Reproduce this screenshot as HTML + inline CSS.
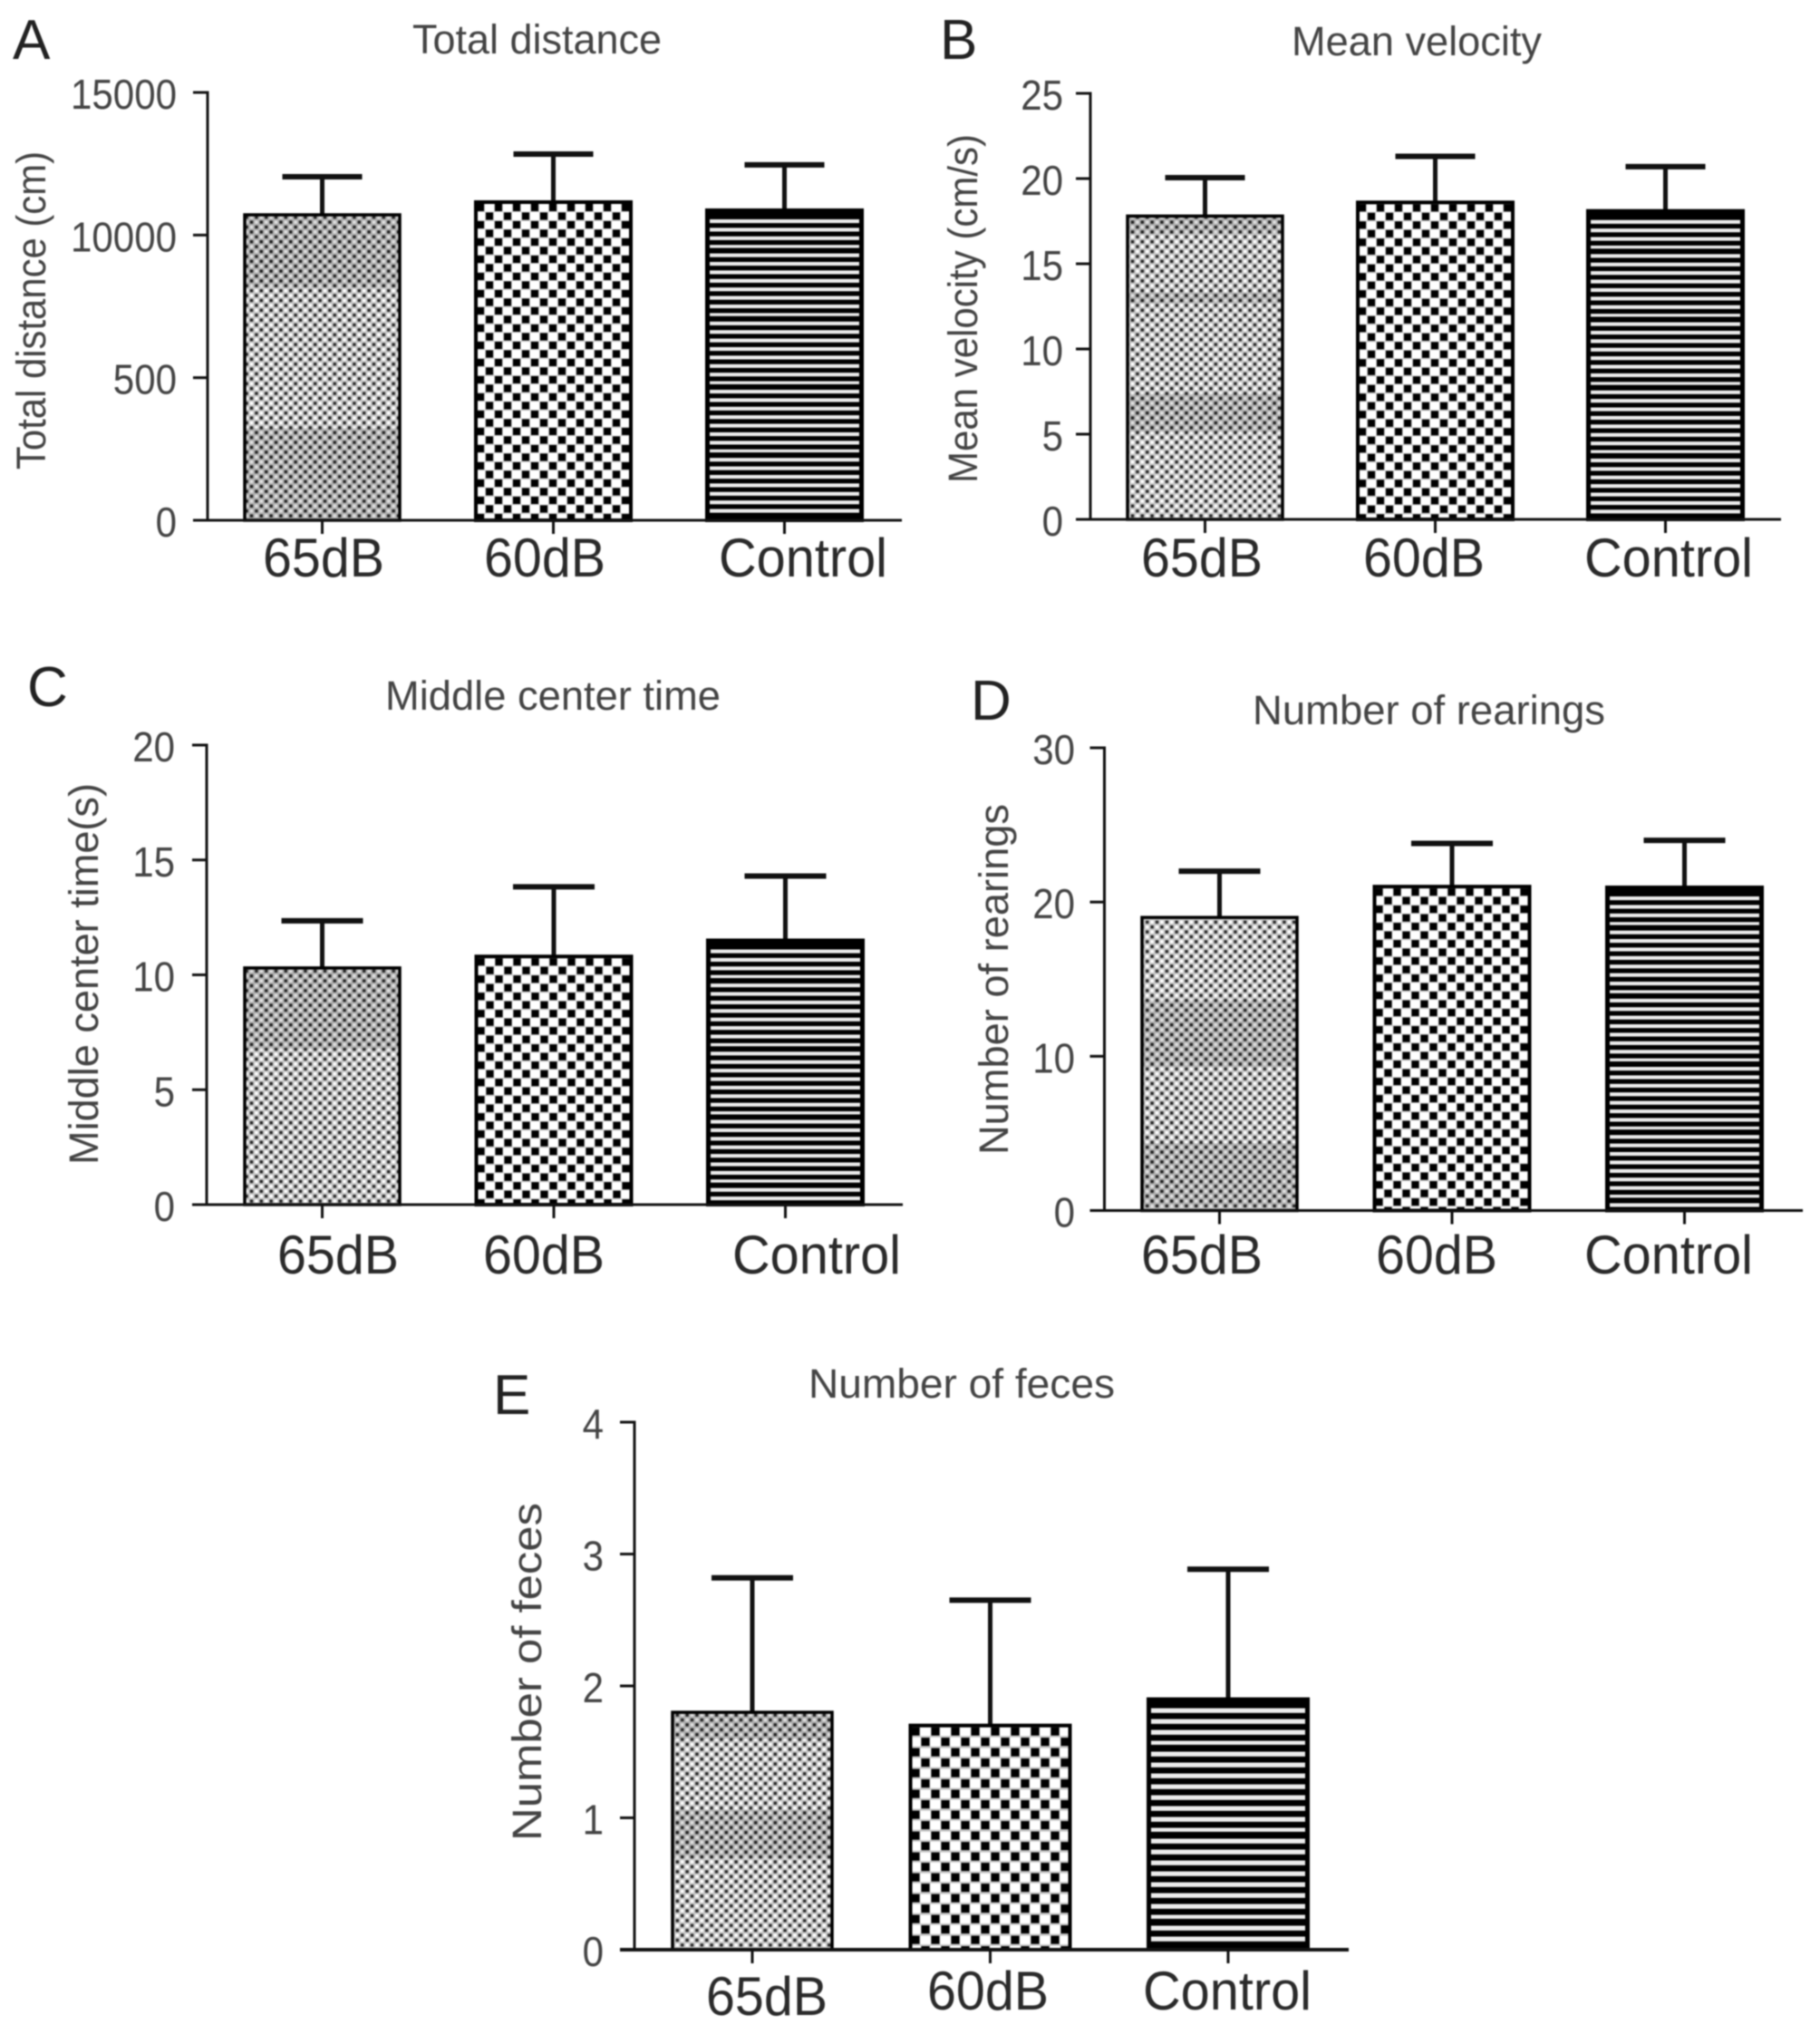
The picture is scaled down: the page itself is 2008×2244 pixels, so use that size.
<!DOCTYPE html>
<html>
<head>
<meta charset="utf-8">
<title>Open field test bar charts</title>
<style>
html,body{margin:0;padding:0;background:#fff;}
#figure{display:block;width:2008px;height:2244px;filter:blur(0.7px);font-family:"Liberation Sans",sans-serif;}
</style>
</head>
<body>
<svg id="figure" xmlns="http://www.w3.org/2000/svg" width="2008" height="2244" viewBox="0 0 2008 2244"><rect width="2008" height="2244" fill="#fff"/></svg>
<script>
const categories = ['65dB', '60dB', 'Control'];

const valuesA = [10710, 11155, 10870];
const errorTopsA = [12045, 12840, 12460];
const tickValuesA = [0, 5000, 10000, 15000];
const tickLabelsA = ['0', '500', '10000', '15000'];

const valuesB = [17.8, 18.6, 18.1];
const errorTopsB = [20.05, 21.3, 20.7];
const tickValuesB = [0, 5, 10, 15, 20, 25];
const tickLabelsB = ['0', '5', '10', '15', '20', '25'];

const valuesC = [10.3, 10.8, 11.5];
const errorTopsC = [12.35, 13.83, 14.3];
const tickValuesC = [0, 5, 10, 15, 20];
const tickLabelsC = ['0', '5', '10', '15', '20'];

const valuesD = [19, 21, 20.95];
const errorTopsD = [22, 23.8, 24];
const tickValuesD = [0, 10, 20, 30];
const tickLabelsD = ['0', '10', '20', '30'];

const valuesE = [1.8, 1.7, 1.9];
const errorTopsE = [2.82, 2.65, 2.885];
const tickValuesE = [0, 1, 2, 3, 4];
const tickLabelsE = ['0', '1', '2', '3', '4'];

const panelLayouts = [
  {id:'a', letter:'A', letterX:14, letterY:65, title:'Total distance', titleX:455, titleY:59, titleW:275, yTitle:'Total distance (cm)', yTitleX:50, yTitleY:518, yTitleL:351,
   axisX:229, top:102, bottom:574, right:995, domainMax:15000, first:355.5, step:255, barW:171, capHalf:44, tickRight:195,
   catLeft:[290,534,793], catY:[636,636,636], bands:[[237,317],[472,574]], stripe:9.4, chW:20, chH:19, chS:8, values:valuesA, errs:errorTopsA, ticks:tickValuesA, labels:tickLabelsA},
  {id:'b', letter:'B', letterX:1037, letterY:65, title:'Mean velocity', titleX:1425, titleY:61, titleW:276, yTitle:'Mean velocity (cm/s)', yTitleX:1078, yTitleY:533, yTitleL:385,
   axisX:1203, top:103, bottom:573, right:1965, domainMax:25, first:1329.5, step:254, barW:171, capHalf:44, tickRight:1173,
   catLeft:[1259,1504,1748], catY:[636,636,636], bands:[[238,258],[323,334],[434,477]], stripe:9.4, chW:20, chH:19, chS:8, values:valuesB, errs:errorTopsB, ticks:tickValuesB, labels:tickLabelsB},
  {id:'c', letter:'C', letterX:30, letterY:779, title:'Middle center time', titleX:425, titleY:783, titleW:370, yTitle:'Middle center time(s)', yTitleX:108, yTitleY:1285, yTitleL:421,
   axisX:228, top:822, bottom:1329, right:996, domainMax:20, first:355.5, step:255.5, barW:171, capHalf:45, tickRight:193,
   catLeft:[306,533,808], catY:[1405,1405,1405], bands:[[1068,1158]], stripe:9.4, chW:20, chH:19, chS:8, values:valuesC, errs:errorTopsC, ticks:tickValuesC, labels:tickLabelsC},
  {id:'d', letter:'D', letterX:1071, letterY:794, title:'Number of rearings', titleX:1382, titleY:799, titleW:389, yTitle:'Number of rearings', yTitleX:1112, yTitleY:1274, yTitleL:387,
   axisX:1218.5, top:825, bottom:1335.5, right:1989, domainMax:30, first:1345.5, step:256.5, barW:171, capHalf:45, tickRight:1186,
   catLeft:[1259,1518,1748], catY:[1405,1405,1405], bands:[[1103,1177],[1261,1332]], stripe:9.4, chW:20, chH:19, chS:8, values:valuesD, errs:errorTopsD, ticks:tickValuesD, labels:tickLabelsD},
  {id:'e', letter:'E', letterX:544, letterY:1560, title:'Number of feces', titleX:892, titleY:1542, titleW:338, yTitle:'Number of feces', yTitleX:597, yTitleY:2031, yTitleL:373,
   axisX:700, top:1569, bottom:2151, right:1488, domainMax:4, first:830, step:262.5, barW:176, capHalf:45, tickRight:666,
   catLeft:[779,1023,1261], catY:[2223,2217,2217], bands:[[1889,1919],[1997,2050]], stripe:12, chW:22, chH:23, chS:9, values:valuesE, errs:errorTopsE, ticks:tickValuesE, labels:tickLabelsE}
];

const SVGNS = 'http://www.w3.org/2000/svg';
const root = document.getElementById('figure');
const defs = document.createElementNS(SVGNS, 'defs');
root.appendChild(defs);

function make(tag, attrs, parent) {
  const node = document.createElementNS(SVGNS, tag);
  for (const k in attrs) node.setAttribute(k, attrs[k]);
  parent.appendChild(node);
  return node;
}
function line(x1, y1, x2, y2, w, parent) {
  return make('line', {x1, y1, x2, y2, stroke:'#111', 'stroke-width':w}, parent);
}
function label(str, attrs, parent) {
  const t = make('text', attrs, parent);
  t.textContent = str;
  return t;
}

const dotPattern = make('pattern', {id:'dots', patternUnits:'userSpaceOnUse', width:10.8, height:10.8}, defs);
make('rect', {width:10.8, height:10.8, fill:'#c6c6c6'}, dotPattern);
make('rect', {x:0.4, y:0.4, width:3.4, height:3.4, fill:'#2a2a2a'}, dotPattern);
make('rect', {x:5.8, y:5.8, width:3.4, height:3.4, fill:'#2a2a2a'}, dotPattern);
make('rect', {x:5.8, y:0.4, width:3.4, height:3.4, fill:'#fff'}, dotPattern);
make('rect', {x:0.4, y:5.8, width:3.4, height:3.4, fill:'#fff'}, dotPattern);

panelLayouts.forEach(function (p) {
  const yScale = function (v) { return p.bottom - (v / p.domainMax) * (p.bottom - p.top); };
  const xCenter = function (i) { return p.first + i * p.step; };

  const g = make('g', {}, root);
  
  

  const letter = label(p.letter, {x:p.letterX, y:p.letterY, 'font-size':62, fill:'#222'}, g);
  
  

  const title = label(p.title, {x:p.titleX, y:p.titleY, 'font-size':45, fill:'#444', textLength:p.titleW, lengthAdjust:'spacingAndGlyphs'}, g);
  
  

  const yTitle = label(p.yTitle, {x:p.yTitleX, y:p.yTitleY, 'font-size':45, fill:'#444', textLength:p.yTitleL, lengthAdjust:'spacingAndGlyphs', transform:'rotate(-90 ' + p.yTitleX + ' ' + p.yTitleY + ')'}, g);
  
  

  const chk = make('pattern', {id:'check-' + p.id, patternUnits:'userSpaceOnUse', width:p.chW, height:p.chH, patternTransform:'translate(' + (xCenter(1) - p.barW / 2) + ' ' + (yScale(p.values[1]) + 2) + ')'}, defs);
  make('rect', {width:p.chW, height:p.chH, fill:'#c4c4c4'}, chk);
  const chPad = (p.chW / 2 - p.chS) / 2;
  make('rect', {x:chPad, y:0, width:p.chS, height:p.chS, fill:'#000'}, chk);
  make('rect', {x:p.chW / 2 + chPad, y:p.chH / 2, width:p.chS, height:p.chS, fill:'#000'}, chk);
  make('rect', {x:p.chW / 2 + chPad - 1, y:-0.5, width:p.chS + 2, height:p.chS + 1, fill:'#fff'}, chk);
  make('rect', {x:chPad - 1, y:p.chH / 2 - 0.5, width:p.chS + 2, height:p.chS + 1, fill:'#fff'}, chk);

  p.values.forEach(function (v, i) {
    const cx = xCenter(i);
    const left = cx - p.barW / 2;
    const topY = yScale(v);
    const h = p.bottom - topY;

    const stem = line(cx, yScale(p.errs[i]), cx, topY, 5, g);
    
    

    const cap = line(cx - p.capHalf, yScale(p.errs[i]), cx + p.capHalf, yScale(p.errs[i]), 6, g);
    
    

    const fill = i === 0 ? 'url(#dots)' : (i === 1 ? 'url(#check-' + p.id + ')' : '#000');
    const bar = make('rect', {x:left, y:topY, width:p.barW, height:h, fill:fill}, g);
    
    

    if (i === 0) {
      p.bands.forEach(function (b) {
        const y1 = Math.max(b[0], topY);
        if (b[1] > y1) {
          const band = make('rect', {x:left, y:y1, width:p.barW, height:b[1] - y1, fill:'#000', opacity:0.12}, g);
          
          
        }
      });
    }

    if (i === 2) {
      let k = 0;
      for (let s = topY + 10; s < p.bottom - 4; s += p.stripe) {
        const thin = k % 8 === 3;
        const stripe = make('rect', {x:left + 3, y:s, width:p.barW - 6, height:p.stripe * (thin ? 0.36 : 0.44), fill:'#ececec'}, g);
        
        
        k += 1;
      }
    }

    const outline = make('rect', {x:left, y:topY, width:p.barW, height:h, fill:'none', stroke:'#000', 'stroke-width':i === 0 ? 3.5 : 4}, g);
    
    

    const xTick = line(cx, p.bottom, cx, p.bottom + 15, 3, g);
    
    

    const cat = label(categories[i], {x:p.catLeft[i], y:p.catY[i], 'font-size':60, fill:'#2a2a2a', textLength:i === 2 ? 186 : 134, lengthAdjust:'spacingAndGlyphs'}, g);
    
    
  });

  const yAxis = line(p.axisX, p.top - 1.5, p.axisX, p.bottom, 3, g);
  
  

  const xAxis = line(p.axisX - 16, p.bottom, p.right, p.bottom, p.id === 'e' ? 4 : 3, g);
  
  

  p.ticks.forEach(function (t, i) {
    const y = yScale(t);
    const tick = line(p.axisX - 16, y, p.axisX, y, 3, g);
    
    

    const tl = label(p.labels[i], {x:p.tickRight, y:y + 18, 'font-size':46, fill:'#444', 'text-anchor':'end', textLength:p.labels[i].length * 23.4, lengthAdjust:'spacingAndGlyphs'}, g);
    
    
  });
});
</script>
</body>
</html>
